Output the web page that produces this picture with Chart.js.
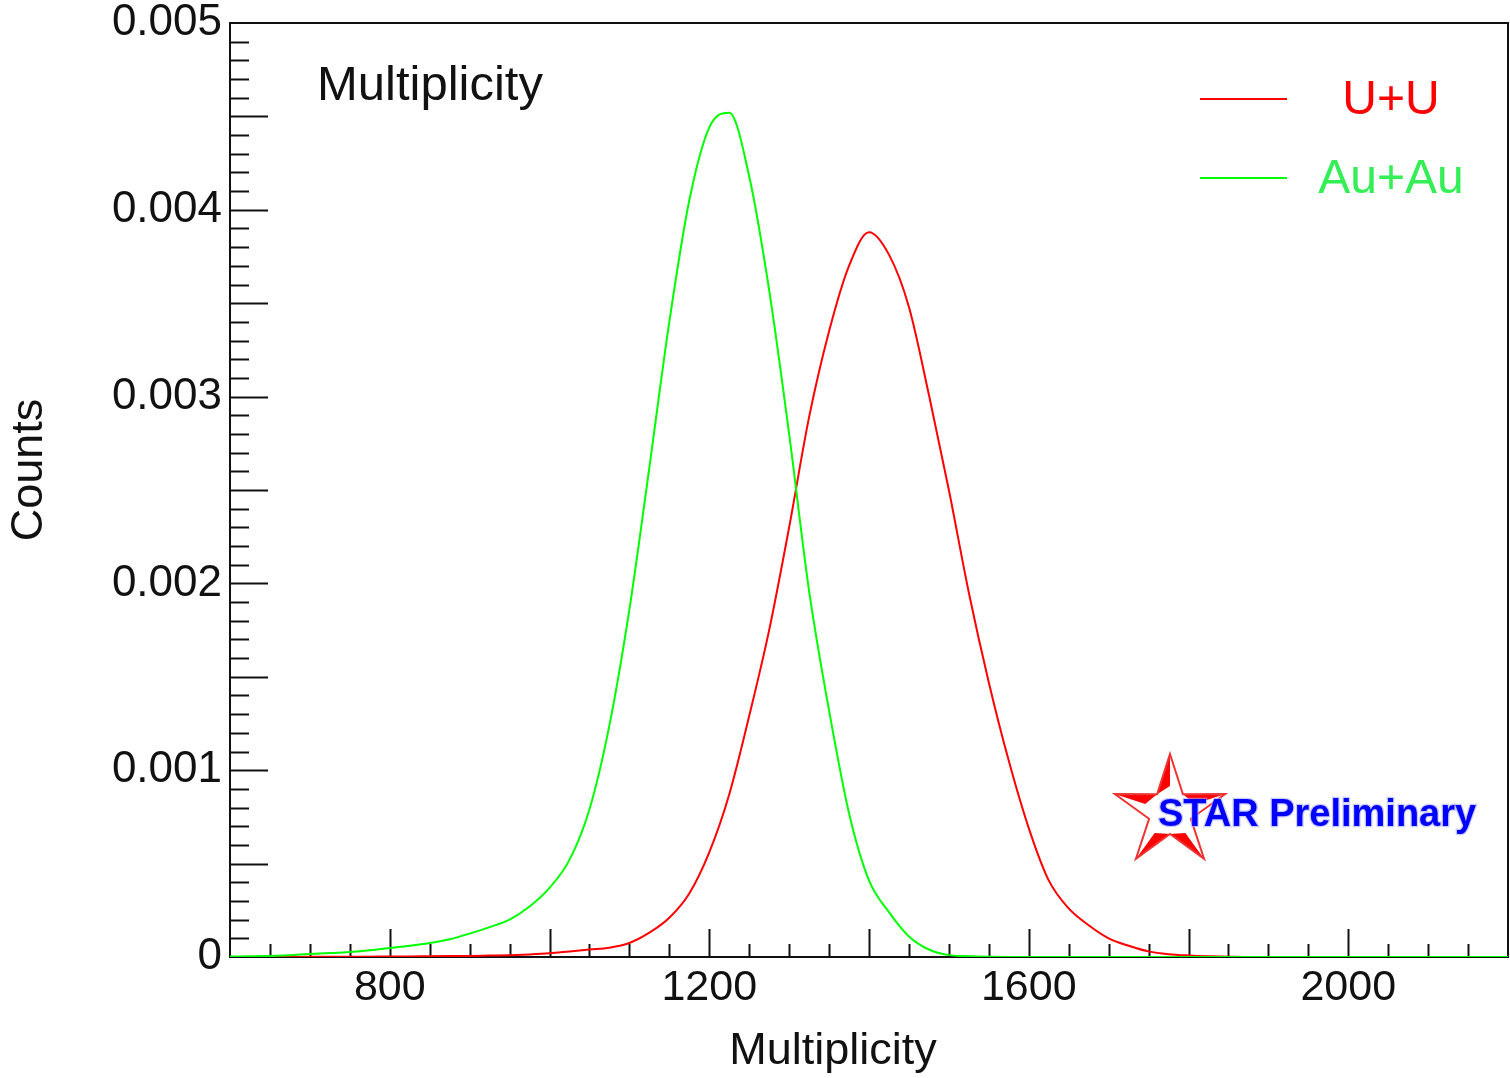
<!DOCTYPE html>
<html>
<head>
<meta charset="utf-8">
<script src="https://cdn.jsdelivr.net/npm/chart.js@4"></script>
<style>
  html, body { margin: 0; padding: 0; background: #fff; }
</style>
</head>
<body>
<canvas id="myChart" width="1510" height="1078"></canvas>
<script>
// bin centres (Multiplicity) and normalised counts
const multiplicity = [
  600, 625, 650, 675, 700, 725, 750, 775, 800, 825, 850, 875, 900, 925, 950, 975,
  1000, 1025, 1050, 1075, 1100, 1125, 1150, 1175, 1200, 1225, 1250, 1275, 1300, 1325, 1350, 1375,
  1400, 1425, 1450, 1475, 1500, 1525, 1550, 1575, 1600, 1625, 1650, 1675, 1700, 1725, 1750, 1775,
  1800, 1825, 1850, 1875, 1900, 1925, 1950, 1975, 2000, 2025, 2050, 2075, 2100, 2125, 2150, 2175, 2200
];
const auauCounts = [
  0.000003, 0.000004, 0.000006, 0.000010, 0.000016, 0.000021, 0.000027, 0.000036,
  0.000048, 0.000060, 0.000075, 0.000095, 0.000125, 0.000160, 0.000200, 0.000270,
  0.00037, 0.00052, 0.00079, 0.00124, 0.00186, 0.00262, 0.00340, 0.00405,
  0.00444, 0.00452, 0.00418, 0.00357, 0.00280, 0.00196, 0.00132, 0.00077,
  0.00041, 0.00024, 0.00011, 0.00004, 0.00001, 0.000004, 0.000001, 0,
  0, 0, 0, 0, 0, 0, 0, 0,
  0, 0, 0, 0, 0, 0, 0, 0, 0, 0, 0, 0, 0, 0, 0, 0, 0
];
const uuCounts = [
  0, 0, 0, 0, 0.000001, 0.000001, 0.000002, 0.000002,
  0.000003, 0.000003, 0.000004, 0.000005, 0.000006, 0.000008, 0.000010, 0.000014,
  0.00002, 0.00003, 0.00004, 0.00005, 0.000075, 0.00013, 0.00021, 0.00034,
  0.00056, 0.00087, 0.00129, 0.00175, 0.00230, 0.00289, 0.00335, 0.00370,
  0.00388, 0.00376, 0.00348, 0.00301, 0.00250, 0.00195, 0.00147, 0.00105,
  0.00069, 0.00041, 0.00026, 0.00017, 0.00010, 0.00006, 0.00003, 0.000015,
  0.000008, 0.000004, 0.000002, 0, 0, 0, 0, 0, 0, 0, 0, 0, 0, 0, 0, 0, 0
];
const xTickLabels = [800, 1200, 1600, 2000];
const yTickLabels = [0, 0.001, 0.002, 0.003, 0.004, 0.005];

const font = '"Liberation Sans", Arial, sans-serif';
const ink = '#111';

function toPoints(ys) {
  return multiplicity.map((x, i) => ({ x: x, y: ys[i] }));
}

function starVertices(cx, cy, R, r) {
  const pts = [];
  for (let i = 0; i < 10; i++) {
    const a = -Math.PI / 2 + i * Math.PI / 5;
    const rad = i % 2 ? r : R;
    pts.push([cx + rad * Math.cos(a), cy + rad * Math.sin(a)]);
  }
  return pts;
}

// ROOT-like frame with inside ticks, legend, labels and STAR logo
const rootFrame = {
  id: 'rootFrame',
  beforeDatasetsDraw(chart) {
    const { ctx, chartArea: a, scales: { x, y } } = chart;
    ctx.save();
    ctx.strokeStyle = '#111';
    ctx.lineWidth = 2;
    ctx.strokeRect(a.left, a.top, a.right - a.left, a.bottom - a.top);
    ctx.beginPath();
    for (let v = 600; v <= 2200; v += 50) {
      const px = Math.round(x.getPixelForValue(v)) + 0.5;
      const len = v % 200 === 0 ? 28 : 13;
      if (px <= a.left + 1 || px >= a.right - 1) continue;
      ctx.moveTo(px, a.bottom);
      ctx.lineTo(px, a.bottom - len);
    }
    for (let k = 0; k <= 50; k++) {
      const v = k * 0.0001;
      const py = Math.round(y.getPixelForValue(v)) + 0.5;
      const len = k % 5 === 0 ? 38 : 19;
      if (py <= a.top + 1 || py >= a.bottom - 1) continue;
      ctx.moveTo(a.left, py);
      ctx.lineTo(a.left + len, py);
    }
    ctx.stroke();
    ctx.restore();
  },
  afterDraw(chart) {
    const { ctx } = chart;
    ctx.save();
    ctx.fillStyle = ink;
    ctx.textBaseline = 'middle';

    // axis titles
    ctx.font = '45px ' + font;
    ctx.textAlign = 'center';
    ctx.fillText('Multiplicity', 833, 1052);
    ctx.save();
    ctx.translate(30, 470);
    ctx.rotate(-Math.PI / 2);
    ctx.fillText('Counts', 0, 0);
    ctx.restore();

    // title inside the frame
    ctx.font = '49px ' + font;
    ctx.textAlign = 'left';
    ctx.fillText('Multiplicity', 317, 86);

    // legend
    const entries = chart.data.datasets.slice().reverse();
    const textColors = { 'U+U': '#ff0000', 'Au+Au': '#33ee55' };
    entries.forEach((ds, i) => {
      const yy = 99 + i * 79;
      ctx.strokeStyle = ds.borderColor;
      ctx.lineWidth = 2;
      ctx.beginPath();
      ctx.moveTo(1200, yy);
      ctx.lineTo(1287, yy);
      ctx.stroke();
      ctx.fillStyle = textColors[ds.label];
      ctx.font = '48px ' + font;
      ctx.textAlign = 'center';
      ctx.fillText(ds.label, 1391, yy + 2);
    });

    // STAR logo: white star, red bevel wedges along one edge of each arm
    const cx = 1170, cy = 812;
    const p = starVertices(cx, cy, 58, 22);
    ctx.beginPath();
    p.forEach((q, i) => i ? ctx.lineTo(q[0], q[1]) : ctx.moveTo(q[0], q[1]));
    ctx.closePath();
    ctx.fillStyle = '#ffffff';
    ctx.fill();
    const wedges = [[0, 9], [2, 1], [4, 5], [6, 5], [8, 9]];
    ctx.fillStyle = '#ff0000';
    wedges.forEach(([tip, inner]) => {
      const mx = p[tip][0] + (cx - p[tip][0]) * 0.55;
      const my = p[tip][1] + (cy - p[tip][1]) * 0.55;
      ctx.beginPath();
      ctx.moveTo(p[tip][0], p[tip][1]);
      ctx.lineTo(p[inner][0], p[inner][1]);
      ctx.lineTo(mx, my);
      ctx.closePath();
      ctx.fill();
    });
    ctx.beginPath();
    p.forEach((q, i) => i ? ctx.lineTo(q[0], q[1]) : ctx.moveTo(q[0], q[1]));
    ctx.closePath();
    ctx.strokeStyle = '#ee3333';
    ctx.lineWidth = 2;
    ctx.stroke();

    ctx.font = 'bold 38px ' + font;
    ctx.textAlign = 'left';
    ctx.lineWidth = 2.5;
    ctx.strokeStyle = 'rgba(170,170,255,0.6)';
    ctx.strokeText('STAR Preliminary', 1158, 816);
    ctx.fillStyle = '#0000ff';
    ctx.fillText('STAR Preliminary', 1158, 816);
    ctx.restore();
  }
};

const context = document.querySelector('#myChart');

const data = {
  datasets: [
    {
      label: 'Au+Au',
      data: toPoints(auauCounts),
      borderColor: '#00ff00',
      borderWidth: 2,
      pointRadius: 0,
      cubicInterpolationMode: 'monotone',
      fill: false
    },
    {
      label: 'U+U',
      data: toPoints(uuCounts),
      borderColor: '#ff0000',
      borderWidth: 2,
      pointRadius: 0,
      cubicInterpolationMode: 'monotone',
      fill: false
    }
  ]
};

const config = {
  type: 'line',
  data: data,
  options: {
    responsive: false,
    animation: false,
    devicePixelRatio: 1,
    layout: { padding: { top: 23, right: 2, left: 0, bottom: 0 } },
    plugins: {
      legend: { display: false },
      tooltip: { enabled: false }
    },
    scales: {
      x: {
        type: 'linear',
        min: 600,
        max: 2200,
        grid: { display: false, drawTicks: false },
        border: { display: false },
        afterFit: s => { s.height = 121; s.paddingLeft = 0; s.paddingRight = 0; },
        afterBuildTicks: s => { s.ticks = xTickLabels.map(v => ({ value: v })); },
        ticks: {
          padding: 5,
          color: ink,
          font: { family: font, size: 43 },
          maxRotation: 0,
          callback: v => String(v)
        }
      },
      y: {
        min: 0,
        max: 0.005,
        grid: { display: false, drawTicks: false },
        border: { display: false },
        afterFit: s => { s.width = 230; s.paddingTop = 0; s.paddingBottom = 0; },
        afterBuildTicks: s => { s.ticks = yTickLabels.map(v => ({ value: v })); },
        ticks: {
          padding: 8,
          color: ink,
          font: { family: font, size: 44 },
          callback: v => v === 0 ? '0' : v.toFixed(3)
        }
      }
    }
  },
  plugins: [rootFrame]
};

new Chart(context, config);
</script>
</body>
</html>
